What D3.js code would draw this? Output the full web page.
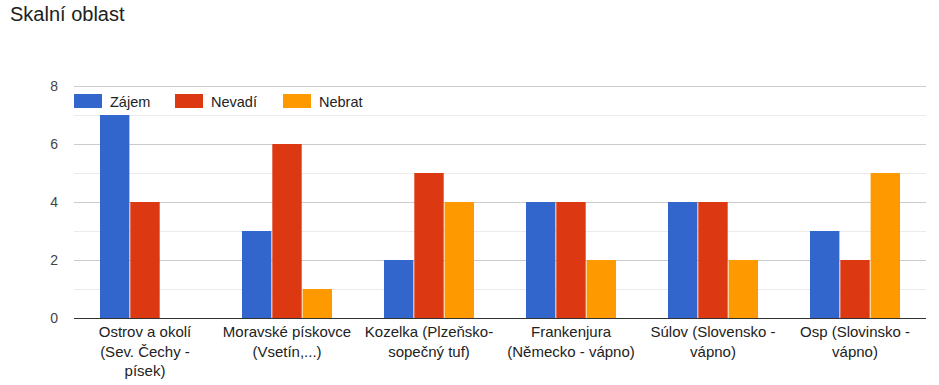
<!DOCTYPE html>
<html>
<head>
<meta charset="utf-8">
<script src="https://cdn.jsdelivr.net/npm/d3@7"></script>
<style>
	body { margin: 0; background: #fff; }
	text { font-family: Arial, "Liberation Sans", sans-serif; }
</style>
</head>
<body>
<div id="chart-area"></div>
<script>
// Data
const categories = [
	["Ostrov a okolí", "(Sev. Čechy -", "písek)"],
	["Moravské pískovce", "(Vsetín,...)"],
	["Kozelka (Plzeňsko-", "sopečný tuf)"],
	["Frankenjura", "(Německo - vápno)"],
	["Súlov (Slovensko -", "vápno)"],
	["Osp (Slovinsko -", "vápno)"]
]
const seriesNames = ["Zájem", "Nevadí", "Nebrat"]
const zajem = [7, 3, 2, 4, 4, 3]
const nevadi = [4, 6, 5, 4, 4, 2]
const nebrat = [0, 1, 4, 2, 2, 5]
const yTicks = [0, 2, 4, 6, 8]
const colors = ["#3366cc", "#dc3912", "#ff9900"]

const series = [zajem, nevadi, nebrat]

// Margins, Canvas, Graph
const W = 939, H = 385
const margin = { left: 74, right: 13, top: 86, bottom: 67 },
	width = W - margin.left - margin.right,
	height = H - margin.top - margin.bottom

const svg = d3.select("#chart-area")
	.append("svg")
	.attr("width", W)
	.attr("height", H)

svg.append("text")
	.attr("x", 10)
	.attr("y", 21)
	.attr("font-size", "20px")
	.attr("fill", "#212121")
	.text("Skalní oblast")

const g = svg.append("g")
	.attr("transform", `translate(${margin.left}, ${margin.top})`)

// Scales
const x0 = d3.scaleBand()
	.domain(d3.range(categories.length))
	.range([0, width])
	.paddingInner(0.366)
	.paddingOuter(0.183)

const x1 = d3.scaleBand()
	.domain(d3.range(series.length))
	.range([0, x0.bandwidth()])
	.paddingInner(0.03)

const y = d3.scaleLinear().domain([0, 8]).range([height, 0])

// Gridlines (minor every 1, major every 2)
g.selectAll(".grid")
	.data(d3.range(1, 9))
	.enter().append("line")
	.attr("x1", 0)
	.attr("x2", width)
	.attr("y1", d => y(d) + 0.5)
	.attr("y2", d => y(d) + 0.5)
	.attr("stroke", d => d % 2 === 0 ? "#cccccc" : "#ebebeb")
	.attr("stroke-width", 1)

// Y axis labels
const yAxisCall = d3.axisLeft(y).tickValues(yTicks).tickSize(0).tickPadding(16)
const yAxis = g.append("g").call(yAxisCall)
yAxis.select(".domain").remove()
yAxis.selectAll("text")
	.attr("font-size", "14px")
	.attr("font-family", "Arial, 'Liberation Sans', sans-serif")
	.attr("fill", "#444")

// Bars
const groups = g.selectAll(".group")
	.data(categories.map((c, i) => i))
	.enter().append("g")
	.attr("transform", i => `translate(${x0(i)}, 0)`)

groups.selectAll("rect")
	.data(i => series.map((s, k) => ({ k: k, v: s[i] })))
	.enter().append("rect")
	.attr("x", d => x1(d.k))
	.attr("width", x1.bandwidth())
	.attr("y", d => y(d.v))
	.attr("height", d => height - y(d.v))
	.attr("fill", d => colors[d.k])

// Baseline
g.append("line")
	.attr("x1", 0)
	.attr("x2", width)
	.attr("y1", height + 0.5)
	.attr("y2", height + 0.5)
	.attr("stroke", "#333")
	.attr("stroke-width", 1)

// X axis labels
const xAxisCall = d3.axisBottom(x0).tickSize(0).tickFormat("")
const xAxis = g.append("g")
	.attr("transform", `translate(0, ${height})`)
	.call(xAxisCall)
xAxis.select(".domain").remove()
xAxis.selectAll(".tick").append("text")
	.attr("text-anchor", "middle")
	.attr("font-size", "15px")
	.attr("fill", "#222")
	.selectAll("tspan")
	.data(i => categories[i])
	.enter().append("tspan")
	.attr("x", 0)
	.attr("y", (d, j) => 19 + j * 19.5)
	.text(d => d)

// Legend
const legendX = [0, 101, 209]
const legend = g.selectAll(".legend")
	.data(seriesNames)
	.enter().append("g")
	.attr("transform", (d, i) => `translate(${legendX[i]}, 8)`)

legend.append("rect")
	.attr("width", 28)
	.attr("height", 14)
	.attr("fill", (d, i) => colors[i])

legend.append("text")
	.attr("x", 36)
	.attr("y", 12.5)
	.attr("font-size", "14.5px")
	.attr("fill", "#222")
	.text(d => d)
</script>
</body>
</html>
